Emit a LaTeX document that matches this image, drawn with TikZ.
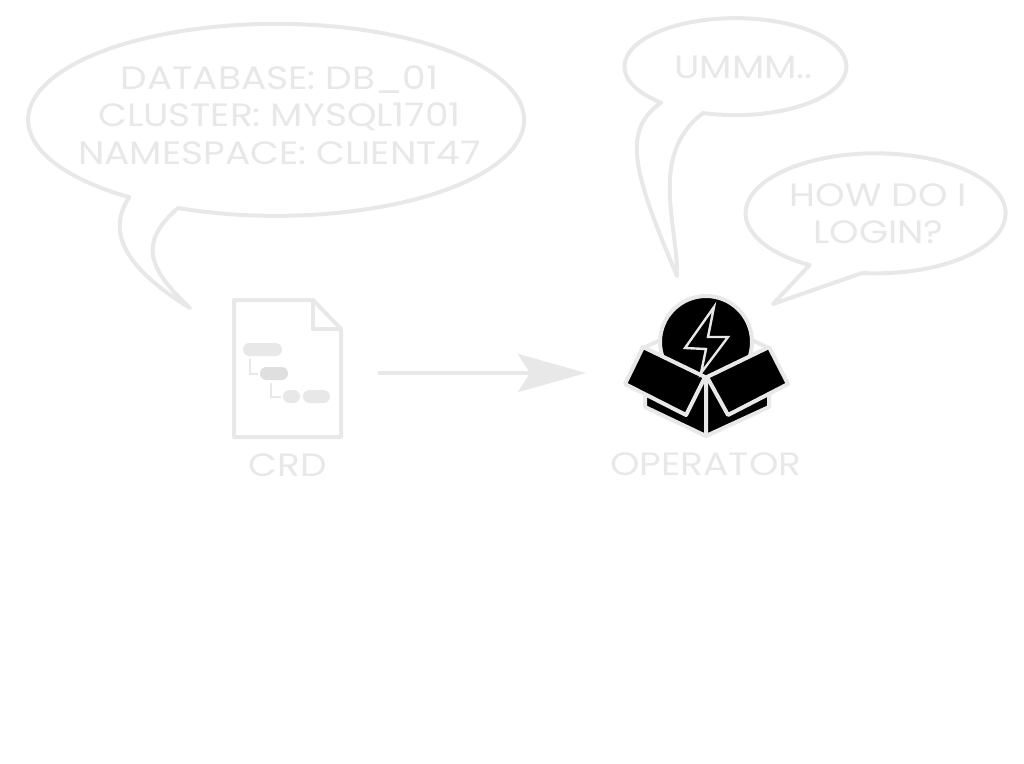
\documentclass[tikz,border=0pt]{standalone}
\usepackage{fontspec}
\setmainfont[FakeStretch=1.16]{Poppins}
\usetikzlibrary{arrows.meta}
\definecolor{pale}{HTML}{E8E8E8}
\tikzset{
  bubble/.style={draw=pale, line width=1mm, line join=round, fill=white},
  says/.style={text=pale, align=center, inner sep=0pt, font=\fontsize{23}{26.6}\selectfont},
  caption/.style={text=pale, inner sep=0pt, font=\fontsize{23}{26.6}\selectfont},
  pill/.style={fill=pale, rounded corners=1.6mm, minimum height=3.25mm, inner sep=0pt},
  tree/.style={draw=pale, line width=0.5mm, shorten <=0.7mm, shorten >=0.5mm},
  boxpart/.style={fill=black, draw=pale, line width=1mm, line join=round},
}
\begin{document}
\begin{tikzpicture}[x=0.25mm,y=-0.25mm]
    \useasboundingbox (0,0) rectangle (1024,763);
    % speech bubbles
    \draw[bubble] (178,208) arc[start angle=113.3, end angle=-233.7, x radius=248, y radius=96]
        .. controls (110,226) and (115,262) .. (190,308)
        .. controls (152,272) and (135,245) .. cycle;
    \node[says] (dbtext) at (279.5,115) {DATABASE: DB\_01\\CLUSTER: MYSQL1701\\NAMESPACE: CLIENT47};
    \draw[bubble] (703,113) arc[start angle=107, end angle=-228, x radius=111, y radius=48.5]
        .. controls (622,130) and (632,170) .. (677,276)
        .. controls (678,225) and (648,155) .. cycle;
    \node[says] (ummtext) at (743.5,67) {UMMM..};
    \draw[bubble] (862,273) arc[start angle=96, end angle=-239.5, x radius=130, y radius=60]
        -- (773,304) -- cycle;
    \node[says] (logintext) at (878.5,214) {HOW DO I\\LOGIN?};

    % the crd file
    \draw[draw=pale, line width=1mm, line join=round] (234,300) -- (313,300) -- (341,329) -- (341,437) -- (234,437) -- cycle;
    \draw[draw=pale, line width=1mm, line join=round] (313,300) -- (313,329) -- (341,329);
    \node[pill, minimum width=9.75mm] (pillroot) at (262.5,349.5) {};
    \node[pill, minimum width=7mm, fill=pale!96!black] (pillchild) at (274,373.5) {};
    \node[pill, minimum width=4.25mm] (pillleaf) at (291.5,396.5) {};
    \node[pill, minimum width=6.75mm] (pillvalue) at (316.5,396.5) {};
    \draw[tree] ([xshift=1.75mm]pillroot.south west) |- (pillchild.west);
    \draw[tree] ([xshift=2.75mm]pillchild.south west) |- (pillleaf.west);
    \node[caption] (crdlabel) at (287.5,465) {CRD};

    % from the file to the operator
    \coordinate (arrowfrom) at (378,373);
    \coordinate (arrowto) at (586,373);
    \draw[draw=pale, line width=1mm, -{Stealth[length=17mm, width=9.5mm, inset=3mm]}] (arrowfrom) -- (arrowto);

    % the operator box
    \draw[boxpart, fill=none] (643,348) -- (680,331);
    \draw[boxpart, fill=none] (769,348) -- (732,331);
    \draw[boxpart] (706,342) circle (46);
    \draw[boxpart] (706,378) -- (645,393) -- (645,407) -- (706,436) -- cycle;
    \draw[boxpart] (706,378) -- (769,393) -- (769,407) -- (706,436) -- cycle;
    \draw[boxpart] (643,347) -- (705,377) -- (686,415) -- (625,384) -- cycle;
    \draw[boxpart] (769,347) -- (707,377) -- (728,415) -- (788,384) -- cycle;
    \draw[draw=pale, line width=0.6mm, line join=miter] (714,307) -- (685,348) -- (706,349) -- (701,373) -- (728,337) -- (708,337) -- cycle;
    \node[caption] (oplabel) at (706,464) {OPERATOR};
\end{tikzpicture}
\end{document}
